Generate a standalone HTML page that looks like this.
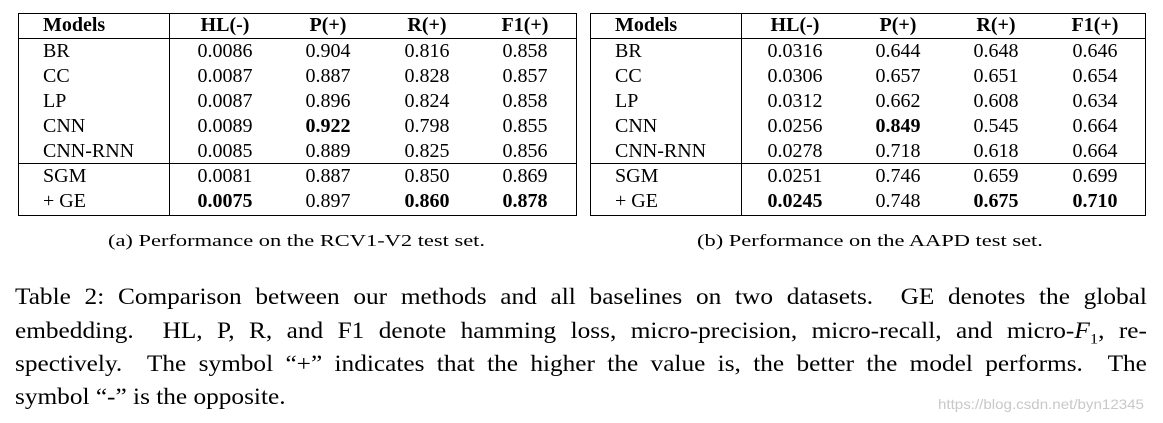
<!DOCTYPE html>
<html><head><meta charset="utf-8"><style>
body{margin:0;width:1163px;height:423px;background:#fff;position:relative;overflow:hidden;font-family:"Liberation Serif",serif;color:#000}
.box{position:absolute;border:1.3px solid #000;box-sizing:border-box}
.hl{position:absolute;height:0;border-top:1.3px solid #000}
.vl{position:absolute;width:0;border-left:1.3px solid #000}
.t{position:absolute;font-size:20px;line-height:24px;white-space:nowrap}
.c{transform:translateX(-50%)}
.cap{position:absolute;font-size:17px;white-space:nowrap;top:231px;transform:scaleX(1.32);transform-origin:left top}
.p{position:absolute;left:15px;width:1029px;font-size:23px;line-height:24px;text-align:justify;text-align-last:justify;white-space:nowrap;transform:scaleX(1.1);transform-origin:left top}
</style></head><body>
<div>
<div class="box" style="left:18px;top:13px;width:559px;height:203px"></div>
<div class="hl" style="left:18px;width:559px;top:38px"></div>
<div class="hl" style="left:18px;width:559px;top:163px"></div>
<div class="vl" style="left:169px;top:13px;height:203px"></div>
<div id="ta"></div>
</div>
<div>
<div class="box" style="left:590px;top:13px;width:556px;height:203px"></div>
<div class="hl" style="left:590px;width:556px;top:38px"></div>
<div class="hl" style="left:590px;width:556px;top:163px"></div>
<div class="vl" style="left:741px;top:13px;height:203px"></div>
<div id="tb"></div>
</div>
<div class="cap" style="left:108px">(a) Performance on the RCV1-V2 test set.</div>
<div class="cap" style="left:697px">(b) Performance on the AAPD test set.</div>
<div>
<div class="p" style="top:285px">Table 2: Comparison between our methods and all baselines on two datasets. &nbsp;GE denotes the global</div>
<div class="p" style="top:319px">embedding. &nbsp;HL, P, R, and F1 denote hamming loss, micro-precision, micro-recall, and micro-<i>F</i><sub style="font-size:15px">1</sub>, re-</div>
<div class="p" style="top:352px">spectively. &nbsp;The symbol “+” indicates that the higher the value is, the better the model performs. &nbsp;The</div>
<div class="p" style="top:385px;text-align-last:left">symbol “-” is the opposite.</div>
</div>
<div style="position:absolute;left:938px;top:396px;font-family:'Liberation Sans',sans-serif;font-size:14px;color:#c8c8c8;transform:scaleX(1.08);transform-origin:left top">https://blog.csdn.net/byn12345</div>
<script>
const models=["BR","CC","LP","CNN","CNN-RNN","SGM","+ GE"];
const headers=["HL(-)","P(+)","R(+)","F1(+)"];
const rcvVals=[["0.0086","0.904","0.816","0.858"],["0.0087","0.887","0.828","0.857"],["0.0087","0.896","0.824","0.858"],["0.0089","0.922","0.798","0.855"],["0.0085","0.889","0.825","0.856"],["0.0081","0.887","0.850","0.869"],["0.0075","0.897","0.860","0.878"]];
const rcvBold=[[3,1],[6,0],[6,2],[6,3]];
const aapdVals=[["0.0316","0.644","0.648","0.646"],["0.0306","0.657","0.651","0.654"],["0.0312","0.662","0.608","0.634"],["0.0256","0.849","0.545","0.664"],["0.0278","0.718","0.618","0.664"],["0.0251","0.746","0.659","0.699"],["0.0245","0.748","0.675","0.710"]];
const aapdBold=[[3,1],[6,0],[6,2],[6,3]];
function build(id,mx,cols,vals,bold){
  const root=document.getElementById(id);
  function add(txt,x,y,center,isBold,name){
    const d=document.createElement('div');
    d.className='t'+(center?' c':'');
    d.style.left=x+'px';d.style.top=(y-12)+'px';
    if(isBold)d.style.fontWeight='bold';
    d.textContent=txt;
    
    
    root.appendChild(d);
  }
  add("Models",mx,25,false,true,'header-models');
  headers.forEach((h,j)=>add(h,cols[j],25,true,true,'header-'+j));
  models.forEach((m,i)=>{
    const y=51+i*25;
    add(m,mx,y,false,false,'model-label');
    vals[i].forEach((v,j)=>{
      const b=bold.some(p=>p[0]===i&&p[1]===j);
      add(v,cols[j],y,true,b,'cell-value');
    });
  });
}
build('ta',43,[225,328,427,525],rcvVals,rcvBold);
build('tb',615,[795,898,996,1095],aapdVals,aapdBold);
</script>
</body></html>
